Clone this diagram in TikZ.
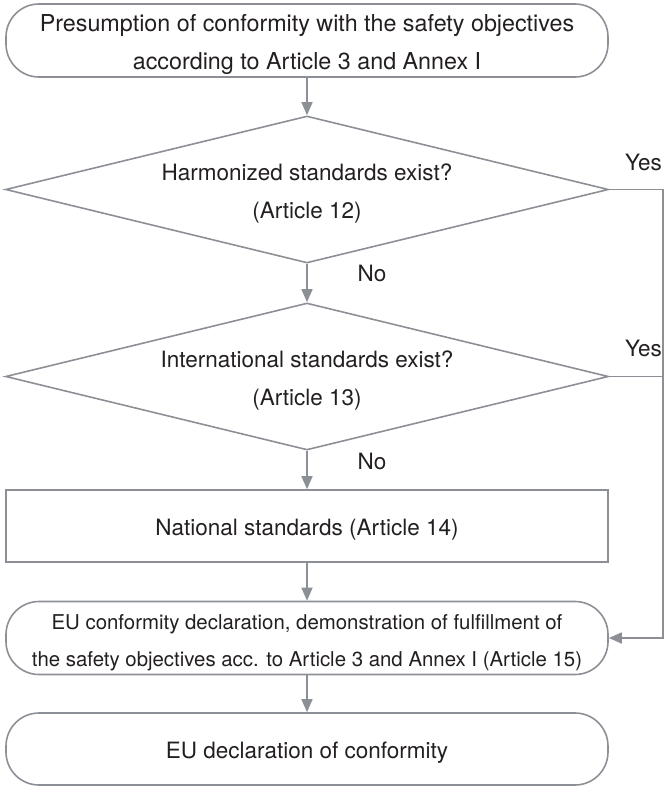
\documentclass[tikz,border=0pt]{standalone}
\usepackage{fontspec}
\setmainfont{TeX Gyre Heros}
\usetikzlibrary{shapes.geometric,arrows.meta}
\definecolor{lineg}{RGB}{140,144,150}
\definecolor{txt}{RGB}{35,31,32}
\newcommand{\mystrut}{\rule{0pt}{24.5pt}}
\begin{document}
\begin{tikzpicture}[x=1pt,y=-1pt,
  every node/.style={text=txt, font=\fontsize{22.5}{38}\selectfont, inner sep=0pt},
  conn/.style={draw=lineg, line width=1.6pt},
  arr/.style={conn, -{Triangle[length=13pt,width=11pt]}},
  termbox/.style={draw=lineg, line width=1.6pt, rounded corners=33pt, minimum width=602pt, minimum height=73pt, align=center},
  procbox/.style={draw=lineg, line width=1.6pt, minimum width=602pt, minimum height=72pt, align=center},
  decision/.style={diamond, draw=lineg, line width=1.6pt, minimum width=603pt, minimum height=147pt, shape aspect=4.1, align=center},
  lbl/.style={font=\fontsize{22.5}{26}\selectfont}]
\useasboundingbox (0,0) rectangle (664,787);

\node[termbox, font=\fontsize{23.3}{38}\selectfont] (start) at (307,40.5) {\mystrut Presumption of conformity with the safety objectives\\according to Article 3 and Annex I};
\node[decision] (d1) at (307,189.5) {\mystrut Harmonized standards exist?\\(Article 12)};
\node[decision] (d2) at (307,376.5) {\mystrut International standards exist?\\(Article 13)};
\node[procbox] (nat) at (307,526) {\mystrut National standards (Article 14)};
\node[termbox, font=\fontsize{20.4}{37}\selectfont] (eu) at (307,638) {\mystrut EU conformity declaration, demonstration of fulfillment of\\the safety objectives acc. to Article 3 and Annex I (Article 15)};
\node[termbox, minimum height=72pt] (final) at (307,749) {\mystrut EU declaration of conformity};

\coordinate (rx) at (663,189.5);

\node[lbl, anchor=east] (yes1) at (662,162) {Yes};
\node[lbl, anchor=east] (yes2) at (662,348) {Yes};
\node[lbl] (no1) at (372,273) {No};
\node[lbl] (no2) at (372,461) {No};

\draw[arr] (start.south) -- (d1.north);
\draw[arr] (d1.south) -- (d2.north);
\draw[arr] (d2.south) -- (nat.north);
\draw[arr] (nat.south) -- (eu.north);
\draw[arr] (eu.south) -- (final.north);
\draw[arr] (d1.east) -- (rx) |- (eu.east);
\draw[conn] (d2.east) -- (d2.east -| rx);
\end{tikzpicture}
\end{document}
